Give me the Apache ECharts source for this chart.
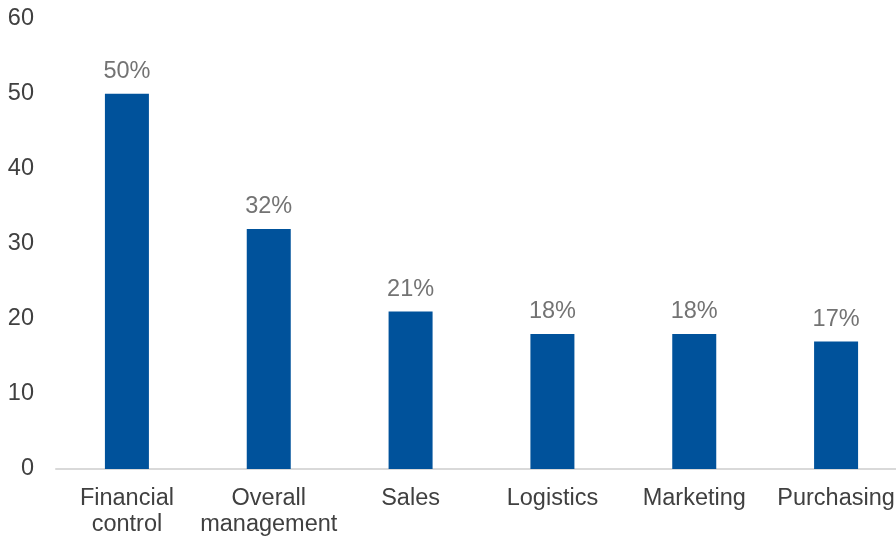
<!DOCTYPE html>
<html>
<head>
<meta charset="utf-8">
<script src="https://cdn.jsdelivr.net/npm/echarts@6/dist/echarts.min.js"></script>
<style>
  html, body { margin: 0; padding: 0; background: #fff; overflow: hidden; }
  /* the plot runs slightly past the right edge of the window */
  #chart { width: 907px; height: 538px; }
</style>
</head>
<body>
<div id="chart"></div>
<script>
// Business functions and share of respondents (%)
const categories = ['Financial\ncontrol', 'Overall\nmanagement', 'Sales', 'Logistics', 'Marketing', 'Purchasing'];
const values = [50, 32, 21, 18, 18, 17];
const yMin = 0, yMax = 60, yStep = 10;

const chart = echarts.init(document.getElementById('chart'), null, { renderer: 'canvas' });
chart.setOption({
  animation: false,
  textStyle: { fontFamily: 'Liberation Sans, Arial, sans-serif' },
  grid: { left: 56, right: 0, top: 18.8, height: 451.2, containLabel: false },
  xAxis: {
    type: 'category',
    data: categories,
    axisLine: { lineStyle: { color: '#d9d9d9', width: 2 } },
    axisTick: { show: false },
    axisLabel: { color: '#404040', fontSize: 23.5, lineHeight: 26, margin: 17, interval: 0 }
  },
  yAxis: {
    type: 'value',
    min: yMin, max: yMax, interval: yStep,
    splitLine: { show: false },
    axisLine: { show: false },
    axisTick: { show: false },
    axisLabel: { color: '#404040', fontSize: 23.5, margin: 22 }
  },
  series: [{
    type: 'bar',
    data: values,
    barWidth: 44,
    itemStyle: { color: '#00529b' },
    label: {
      show: true,
      position: 'top',
      distance: 10,
      formatter: p => p.value + '%',
      color: '#737373',
      fontSize: 23.5
    }
  }]
});
</script>
</body>
</html>
